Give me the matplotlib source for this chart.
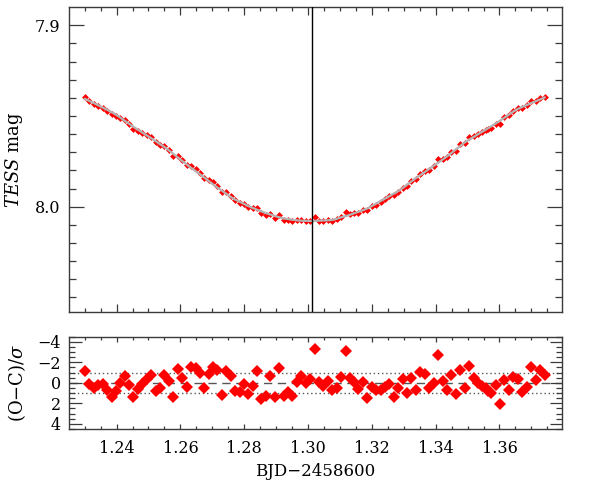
import numpy as np
import matplotlib
matplotlib.use('Agg')
import matplotlib.pyplot as plt
from matplotlib.ticker import MultipleLocator

plt.rcParams['font.family'] = ['DejaVu Serif']
plt.rcParams['mathtext.fontset'] = 'dejavuserif'

# BJD - 2458600
times = [
    1.23009, 1.23144, 1.23291, 1.23425, 1.23572, 1.23706, 1.23844, 1.23978, 1.24113, 1.24259,
    1.24394, 1.24531, 1.24675, 1.24813, 1.24947, 1.25081, 1.25228, 1.25363, 1.25500, 1.25644,
    1.25781, 1.25916, 1.26050, 1.26197, 1.26331, 1.26478, 1.26613, 1.26738, 1.26884, 1.27019,
    1.27156, 1.27291, 1.27438, 1.27572, 1.27706, 1.27853, 1.27988, 1.28125, 1.28269, 1.28406,
    1.28541, 1.28675, 1.28822, 1.28956, 1.29094, 1.29238, 1.29375, 1.29509, 1.29644, 1.29791,
    1.29925, 1.30072, 1.30206, 1.30344, 1.30478, 1.30613, 1.30759, 1.30894, 1.31031, 1.31175,
    1.31313, 1.31447, 1.31581, 1.31728, 1.31863, 1.32000, 1.32134, 1.32281, 1.32416, 1.32550,
    1.32688, 1.32831, 1.32969, 1.33103, 1.33238, 1.33384, 1.33519, 1.33666, 1.33800, 1.33938,
    1.34081, 1.34219, 1.34353, 1.34488, 1.34634, 1.34769, 1.34906, 1.35050, 1.35188, 1.35331,
    1.35456, 1.35563, 1.35644, 1.35738, 1.35894, 1.36009, 1.36156, 1.36300, 1.36438, 1.36581,
    1.36719, 1.36863, 1.36988, 1.37134, 1.37269, 1.37416,
]

# model (C) magnitudes at each time
model_mag = [
    7.9406, 7.9417, 7.9429, 7.9441, 7.9454, 7.9466, 7.9479, 7.9492, 7.9508, 7.9527,
    7.9543, 7.9560, 7.9576, 7.9592, 7.9607, 7.9622, 7.9639, 7.9655, 7.9671, 7.9690,
    7.9709, 7.9728, 7.9747, 7.9767, 7.9785, 7.9804, 7.9821, 7.9838, 7.9858, 7.9876,
    7.9894, 7.9910, 7.9929, 7.9945, 7.9960, 7.9972, 7.9984, 7.9996, 8.0007, 8.0017,
    8.0026, 8.0035, 8.0043, 8.0051, 8.0058, 8.0065, 8.0068, 8.0072, 8.0075, 8.0077,
    8.0078, 8.0079, 8.0079, 8.0077, 8.0076, 8.0075, 8.0073, 8.0067, 8.0059, 8.0052,
    8.0045, 8.0036, 8.0028, 8.0019, 8.0009, 7.9996, 7.9983, 7.9968, 7.9955, 7.9942,
    7.9928, 7.9914, 7.9897, 7.9879, 7.9861, 7.9842, 7.9826, 7.9808, 7.9792, 7.9775,
    7.9757, 7.9740, 7.9723, 7.9705, 7.9684, 7.9666, 7.9646, 7.9630, 7.9616, 7.9600,
    7.9587, 7.9576, 7.9567, 7.9557, 7.9540, 7.9527, 7.9509, 7.9492, 7.9475, 7.9461,
    7.9450, 7.9439, 7.9429, 7.9419, 7.9409, 7.9398,
]

# (O-C)/sigma
resid = [
    -1.20, 0.16, 0.55, 0.22, 0.16, 0.70, 1.36, 0.80, 0.06, -0.65,
    0.22, 1.36, 0.64, 0.10, -0.33, -0.75, 0.78, 0.49, -0.75, -0.17,
    1.36, -1.36, -0.43, 0.45, -1.55, -1.43, -0.97, 0.55, -0.87, -1.52,
    -1.26, 1.19, -1.20, -0.68, 0.78, 0.93, 0.13, 1.10, 0.35, -1.20,
    1.58, 1.29, -0.68, 1.36, -1.43, 1.26, 0.93, 1.26, -0.10, -0.68,
    0.06, -0.36, -3.27, -0.07, 0.32, -0.14, 0.71, 0.49, -0.55, -3.08,
    -0.46, -0.04, 0.61, -0.04, 1.52, 0.39, 0.71, 0.74, 0.39, 0.16,
    1.39, 0.55, -0.36, 1.03, -0.49, 0.71, -1.07, -0.87, 0.55, 0.00,
    -2.76, -0.14, 0.68, -0.78, 1.07, -1.30, 0.49, -1.65, -0.52, 0.00,
    0.32, 0.55, 0.78, 1.03, 0.25, 2.10, -0.30, 0.66, -0.60, -0.38,
    0.88, 0.42, -1.52, -0.30, -1.25, -0.75,
]

sigma_mag = 0.0007
t_mid = 1.3014

t = np.array(times)
c = np.array(model_mag)
r = np.array(resid)
obs = c + sigma_mag * r

fig = plt.figure(figsize=(5.98, 4.80), dpi=100)
ax1 = fig.add_axes([0.1154, 0.3494, 0.8239, 0.6354])
ax2 = fig.add_axes([0.1154, 0.10625, 0.8239, 0.1923])

edge = '#3a3a3a'
for ax in (ax1, ax2):
    for s in ax.spines.values():
        s.set_color(edge)
        s.set_linewidth(1.0)
    ax.set_xlim(1.2251, 1.3795)
    ax.xaxis.set_major_locator(MultipleLocator(0.02))
    ax.xaxis.set_minor_locator(MultipleLocator(0.005))
    ax.tick_params(which='both', direction='in', top=True, right=True,
                   color=edge, labelsize=11.5, width=0.9)

# top panel
ax1.errorbar(t, obs, yerr=sigma_mag, fmt='D', color='red', ms=3.5,
             mew=0, elinewidth=1.0, capsize=0, zorder=2)
ax1.plot(t, c, color='#b4b4b4', lw=1.6, zorder=3)
ax1.axvline(t_mid, color='black', lw=1.0, zorder=4)
ax1.set_ylim(8.0582, 7.8901)
ax1.yaxis.set_major_locator(MultipleLocator(0.1))
ax1.yaxis.set_minor_locator(MultipleLocator(0.01))
ax1.yaxis.set_major_formatter(plt.FormatStrFormatter('%.1f'))
ax1.tick_params(axis='x', which='major', length=6, labelbottom=False)
ax1.tick_params(axis='x', which='minor', length=3)
ax1.tick_params(axis='y', which='major', length=11, pad=6)
ax1.tick_params(axis='y', which='minor', length=5)
ax1.set_ylabel(r'$\mathit{TESS}$ mag', fontsize=13)
ax1.yaxis.set_label_coords(-0.089, 0.5)

# residual panel
ax2.axhline(0, color='#555555', lw=1.0, ls=(0, (6, 4)), zorder=1)
for lvl in (-1, 1):
    ax2.axhline(lvl, color='#555555', lw=1.0, ls=(0, (1, 2)), zorder=1)
ax2.plot(t, r, 'D', color='red', ms=6, mew=0, zorder=3)
ax2.set_ylim(4.5, -4.5)
ax2.yaxis.set_major_locator(MultipleLocator(2))
ax2.yaxis.set_minor_locator(MultipleLocator(0.5))
ax2.tick_params(axis='x', which='major', length=3.5, pad=8)
ax2.tick_params(axis='x', which='minor', length=2)
ax2.tick_params(axis='y', which='major', length=9, pad=6)
ax2.tick_params(axis='y', which='minor', length=4)
ax2.set_ylabel(r'(O$-$C)/$\sigma$', fontsize=13)
ax2.yaxis.set_label_coords(-0.083, 0.5)
ax2.set_xlabel('BJD\u22122458600', fontsize=12, labelpad=4)

fig.savefig('out.png', dpi=100)
